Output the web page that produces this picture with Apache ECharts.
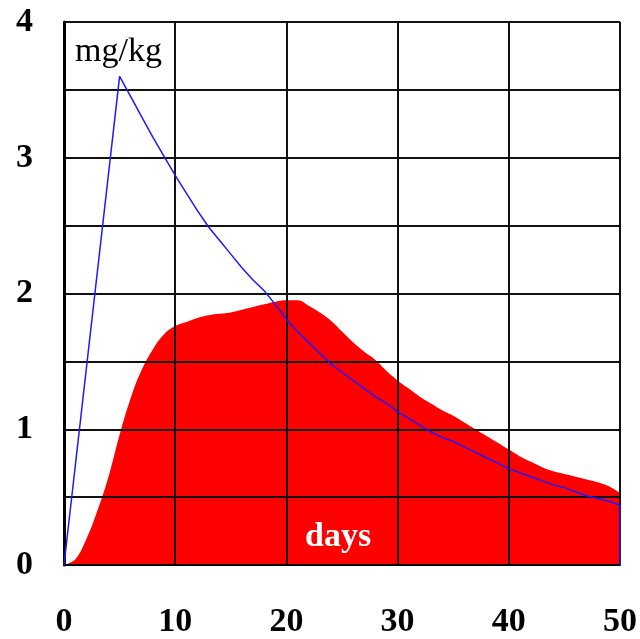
<!DOCTYPE html>
<html>
<head>
<meta charset="utf-8">
<script src="https://cdn.jsdelivr.net/npm/echarts@6/dist/echarts.min.js"></script>
<style>html,body{margin:0;padding:0;background:#fff;overflow:hidden;}#c{width:640px;height:639px;}</style>
</head>
<body>
<div id="c"></div>
<script>
// Days (x values)
const days = [0,1,2,3,4,5,6,7,8,9,10,11,12,13,14,15,16,17,18,19,20,21,22,23,24,25,26,27,28,29,30,31,32,33,34,35,36,37,38,39,40,41,42,43,44,45,46,47,48,49,50];
// Red filled area (mg/kg)
const redValues = [0,0.04,0.19,0.40,0.65,0.96,1.23,1.44,1.59,1.70,1.76,1.79,1.82,1.84,1.85,1.86,1.88,1.90,1.92,1.94,1.95,1.95,1.91,1.86,1.80,1.72,1.64,1.57,1.51,1.43,1.36,1.30,1.24,1.19,1.14,1.10,1.05,1.00,0.95,0.90,0.85,0.80,0.76,0.72,0.69,0.67,0.65,0.63,0.61,0.58,0.53];
// Blue line (mg/kg)
const blueDays = [0,5,6,7,8,9,10,11,12,13,14,15,16,17,18,19,20,21,22,23,24,25,26,27,28,29,30,31,32,33,34,35,36,37,38,39,40,41,42,43,44,45,46,47,48,49,50,50];
const blueValues = [0,3.60,3.45,3.30,3.15,3.01,2.87,2.74,2.61,2.49,2.39,2.29,2.19,2.10,2.02,1.92,1.81,1.72,1.64,1.56,1.48,1.42,1.36,1.30,1.24,1.19,1.13,1.08,1.03,0.98,0.94,0.91,0.87,0.83,0.79,0.75,0.71,0.68,0.65,0.62,0.59,0.57,0.54,0.51,0.49,0.47,0.44,0];
// Tick labels
const yTickLabels = [0,1,2,3,4];
const xTickLabels = [0,10,20,30,40,50];

const chart = echarts.init(document.getElementById('c'), null, {renderer:'canvas'});
const serif = '"Liberation Serif","DejaVu Serif",serif';
chart.setOption({
  animation:false,
  backgroundColor:'#fff',
  grid:{left:64,right:18,top:22,bottom:69,containLabel:false},
  xAxis:{
    type:'value',min:0,max:50,interval:10,z:2,
    axisLine:{show:true,onZero:false,lineStyle:{color:'#000',width:2}},
    axisTick:{show:false},
    splitLine:{show:true,lineStyle:{color:'#111',width:2}},
    axisLabel:{margin:40,color:'#000',fontFamily:serif,fontWeight:'bold',fontSize:34,
      formatter:v=>xTickLabels.indexOf(v)>=0?String(v):''}
  },
  yAxis:{
    type:'value',min:0,max:4,interval:0.5,z:2,
    axisLine:{show:true,onZero:false,lineStyle:{color:'#000',width:3}},
    axisTick:{show:false},
    splitLine:{show:true,lineStyle:{color:'#111',width:2}},
    axisLabel:{margin:31,color:'#000',fontFamily:serif,fontWeight:'bold',fontSize:34,
      formatter:v=>yTickLabels.indexOf(v)>=0?String(v):''}
  },
  series:[
    {type:'line',z:1,smooth:0.4,data:days.map((d,i)=>[d,redValues[i]]),showSymbol:false,
     lineStyle:{width:0},areaStyle:{color:'#ff0000',opacity:1},itemStyle:{color:'#ff0000'}},
    {type:'line',z:3,data:blueDays.map((d,i)=>[d,blueValues[i]]),showSymbol:false,
     lineStyle:{width:1.5,color:'#1a1aff'},itemStyle:{color:'#1a1aff'}}
  ],
  graphic:[
    {type:'text',left:75,top:35,z:10,style:{text:'mg/kg',fill:'#000',font:'normal 34px '+serif}},
    {type:'text',left:305,top:520,z:10,style:{text:'days',fill:'#fff',font:'bold 34px '+serif}}
  ]
});
</script>
</body>
</html>
